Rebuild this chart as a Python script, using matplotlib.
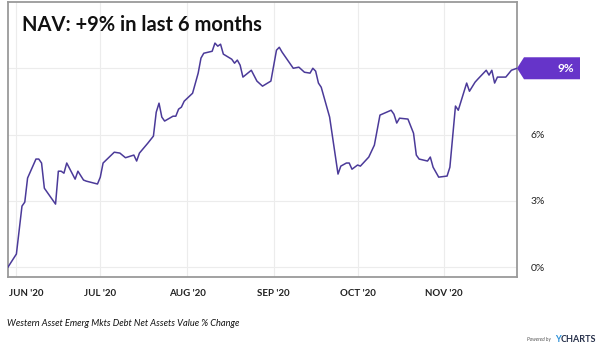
import matplotlib
matplotlib.use("Agg")
import matplotlib.pyplot as plt
from matplotlib.patches import Polygon
from matplotlib.transforms import ScaledTranslation
import numpy as np

plt.rcParams['font.family'] = ['Lato', 'DejaVu Sans']

# NAV % change
dates = ["2020-05-29", "2020-06-01", "2020-06-03", "2020-06-04", "2020-06-05",
         "2020-06-08", "2020-06-09", "2020-06-10", "2020-06-11", "2020-06-15",
         "2020-06-16", "2020-06-17", "2020-06-18", "2020-06-19", "2020-06-22",
         "2020-06-23", "2020-06-25", "2020-06-26", "2020-06-30", "2020-07-01",
         "2020-07-02", "2020-07-06", "2020-07-08", "2020-07-10", "2020-07-13",
         "2020-07-14", "2020-07-15", "2020-07-18", "2020-07-20", "2020-07-21",
         "2020-07-22", "2020-07-23", "2020-07-24", "2020-07-27", "2020-07-28",
         "2020-07-29", "2020-07-30", "2020-07-31", "2020-08-03", "2020-08-05",
         "2020-08-06", "2020-08-07", "2020-08-10", "2020-08-11", "2020-08-12",
         "2020-08-13", "2020-08-14", "2020-08-17", "2020-08-18", "2020-08-19",
         "2020-08-20", "2020-08-21", "2020-08-24", "2020-08-26", "2020-08-28",
         "2020-08-31", "2020-09-02", "2020-09-03", "2020-09-04", "2020-09-08",
         "2020-09-10", "2020-09-12", "2020-09-14", "2020-09-15", "2020-09-16",
         "2020-09-17", "2020-09-18", "2020-09-21", "2020-09-24", "2020-09-25",
         "2020-09-27", "2020-09-28", "2020-09-29", "2020-10-01", "2020-10-02",
         "2020-10-05", "2020-10-07", "2020-10-09", "2020-10-13", "2020-10-14",
         "2020-10-15", "2020-10-16", "2020-10-19", "2020-10-21", "2020-10-22",
         "2020-10-23", "2020-10-26", "2020-10-27", "2020-10-28", "2020-10-30",
         "2020-11-02", "2020-11-03", "2020-11-05", "2020-11-06", "2020-11-09",
         "2020-11-10", "2020-11-12", "2020-11-13", "2020-11-16", "2020-11-17",
         "2020-11-18", "2020-11-19", "2020-11-20", "2020-11-23", "2020-11-25",
         "2020-11-27"]
values = [0.0, 0.59, 2.76, 2.94, 4.03,
          4.89, 4.89, 4.71, 3.57, 2.85,
          4.34, 4.34, 4.25, 4.71, 3.98,
          4.34, 3.94, 3.89, 3.76, 4.07,
          4.71, 5.20, 5.16, 4.95, 5.07,
          4.80, 5.16, 5.61, 5.93, 7.01,
          7.42, 6.79, 6.61, 6.83, 6.83,
          7.15, 7.24, 7.51, 7.87, 8.78,
          9.46, 9.68, 9.77, 10.14, 10.0,
          10.09, 9.64, 9.41, 9.23, 9.37,
          9.14, 8.60, 8.91, 8.42, 8.19,
          8.42, 9.82, 9.95, 9.73, 9.0,
          9.05, 8.82, 8.78, 9.0, 8.87,
          8.33, 8.14, 6.79, 4.21, 4.57,
          4.71, 4.71, 4.43, 4.62, 4.57,
          4.98, 5.52, 6.88, 7.10, 6.92,
          6.52, 6.74, 6.70, 6.06, 5.07,
          4.89, 4.80, 4.98, 4.52, 4.07,
          4.12, 4.52, 7.29, 7.10, 8.33,
          7.96, 8.37, 8.51, 8.91, 8.69,
          8.91, 8.33, 8.60, 8.60, 8.91,
          9.0]
months = ["2020-06-01", "2020-07-01", "2020-08-01", "2020-09-01", "2020-10-01", "2020-11-01"]
month_labels = ["JUN '20", "JUL '20", "AUG '20", "SEP '20", "OCT '20", "NOV '20"]
yticks = [0, 3, 6, 9]
ytick_labels = ["0%", "3%", "6%", ""]
last_label = "9%"

x = np.array(dates, dtype="datetime64[D]")
mx = np.array(months, dtype="datetime64[D]")

fig = plt.figure(figsize=(6, 3.55), dpi=100)
ax = fig.add_axes([8/600, 1-277/355, 509/600, 275/355])

ax.plot(x, values, color="#4b3a99", lw=1.1, zorder=3)
ax.set_xlim(x[0], x[-1])
ax.set_ylim(-0.45, 12.0)

ax.set_xticks(mx)
ax.set_xticklabels(month_labels, fontsize=7, fontweight="bold", color="#222222")
ax.set_yticks(yticks)
ax.set_yticklabels(ytick_labels, fontsize=7.5, color="#222222")
ax.yaxis.tick_right()
ax.tick_params(axis="both", length=0)
ax.tick_params(axis="y", pad=10)
ax.tick_params(axis="x", pad=9)
ax.grid(True, color="#ececec", lw=0.8, zorder=0)
for s in ax.spines.values():
    s.set_color("#9a9a9a")
    s.set_linewidth(1.3)

# first month label sits a bit right so it stays inside the figure
lab0 = ax.get_xticklabels()[0]
lab0.set_transform(lab0.get_transform() + ScaledTranslation(10/100, 0, fig.dpi_scale_trans))

fig.text(22/600, 1-25/355, "NAV: +9% in last 6 months",
         fontsize=14.5, fontweight="bold", color="#111111", va="center", ha="left")

# purple flag marking the last value
fig.canvas.draw()
tx, ty = ax.get_yaxis_transform().transform((1, values[-1]))
flag = Polygon([(tx, ty), (tx + 7, ty + 11), (tx + 63, ty + 11), (tx + 63, ty - 11), (tx + 7, ty - 11)],
               closed=True, transform=None, facecolor="#6634c9", edgecolor="none", clip_on=False, zorder=5)
fig.add_artist(flag)
fig.text((tx + 57) / 600, ty / 355, last_label, ha="right", va="center",
         fontsize=8.5, fontweight="bold", color="white", zorder=6)

fig.text(7/600, 1-324/355, "Western Asset Emerg Mkts Debt Net Assets Value % Change",
         fontsize=6.7, style="italic", color="#111111", va="center", ha="left")
fig.text(551/600, 1-340/355, "Powered by", fontsize=3.5, style="italic", color="#555555",
         va="center", ha="right")
fig.text(555/600, 1-340/355, "Y", fontsize=6.5, fontweight="bold", color="#2a8fd8",
         va="center", ha="left")
fig.text(561/600, 1-340/355, "CHARTS", fontsize=6.5, fontweight="bold", color="#27304a",
         va="center", ha="left")

fig.savefig("out.png", dpi=100)
